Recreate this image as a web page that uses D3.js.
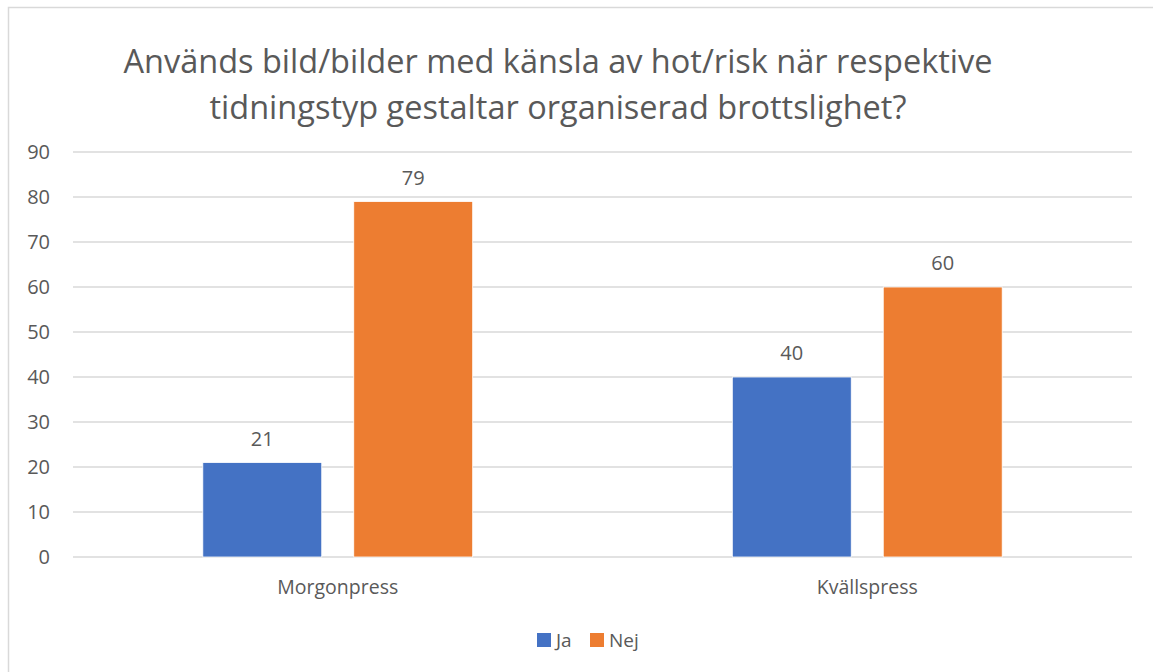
<!DOCTYPE html>
<html>
<head>
<meta charset="utf-8">
<script src="https://cdn.jsdelivr.net/npm/d3@7"></script>
<style>
  body { margin: 0; background: #fff; }
  #chart text { font-family: "Open Sans", "Noto Sans", sans-serif; fill: #595959; }
</style>
</head>
<body>
<div id="chart"></div>
<script>
// data
var categories = ["Morgonpress", "Kvällspress"];
var seriesNames = ["Ja", "Nej"];
var jaValues = [21, 40];
var nejValues = [79, 60];
var yTicks = [0, 10, 20, 30, 40, 50, 60, 70, 80, 90];
var titleLines = ["Används bild/bilder med känsla av hot/risk när respektive",
                  "tidningstyp gestaltar organiserad brottslighet?"];
var colors = ["#4472C4", "#ED7D31"];

var W = 1153, H = 672;
var margin = {top: 152, right: 20, bottom: 115, left: 73},
    width = 1132 - margin.left,
    height = 557 - margin.top;

var svg = d3.select("#chart").append("svg")
    .attr("width", W)
    .attr("height", H);

// outer border
svg.append("rect")
    .attr("x", 8.5).attr("y", 7.5)
    .attr("width", W + 10).attr("height", H + 10)
    .attr("fill", "none")
    .attr("stroke", "#D9D9D9")
    .attr("stroke-width", 1.5);

// title
svg.selectAll(".title")
    .data(titleLines)
  .enter().append("text")
    .attr("class", "title")
    .attr("x", 558)
    .attr("y", function(d, i) { return 73 + i * 46; })
    .attr("text-anchor", "middle")
    .style("font-size", "32.5px")
    .text(function(d) { return d; });

var g = svg.append("g")
    .attr("transform", "translate(" + margin.left + "," + margin.top + ")");

var x0 = d3.scaleBand().domain(categories).range([0, width]);
var x1 = d3.scaleBand().domain(seriesNames)
    .range([0, x0.bandwidth()])
    .paddingInner(0.212)
    .paddingOuter(0.86);
var y = d3.scaleLinear().domain([0, 90]).range([height, 0]);

// gridlines
g.selectAll(".grid")
    .data(yTicks)
  .enter().append("line")
    .attr("x1", 0).attr("x2", width)
    .attr("y1", function(d) { return y(d); })
    .attr("y2", function(d) { return y(d); })
    .attr("stroke", "#D9D9D9")
    .attr("stroke-width", 1.3);

// y axis labels
var yAxis = d3.axisLeft(y).tickValues(yTicks).tickSize(0).tickPadding(23);
g.append("g")
    .attr("class", "y axis")
    .call(yAxis)
    .call(function(s) { s.select(".domain").remove(); })
  .selectAll("text")
    .style("font-size", "20px");

// x axis labels
var xAxis = d3.axisBottom(x0).tickSize(0).tickPadding(23);
g.append("g")
    .attr("class", "x axis")
    .attr("transform", "translate(0," + height + ")")
    .call(xAxis)
    .call(function(s) { s.select(".domain").remove(); })
  .selectAll("text")
    .style("font-size", "19.5px");

var rows = [];
categories.forEach(function(c, i) {
    rows.push({cat: c, s: "Ja", value: jaValues[i], color: colors[0]});
    rows.push({cat: c, s: "Nej", value: nejValues[i], color: colors[1]});
});

g.selectAll(".bar")
    .data(rows)
  .enter().append("rect")
    .attr("class", "bar")
    .attr("x", function(d) { return x0(d.cat) + x1(d.s); })
    .attr("width", x1.bandwidth())
    .attr("y", function(d) { return y(d.value); })
    .attr("height", function(d) { return height - y(d.value); })
    .attr("fill", function(d) { return d.color; })
    .attr("stroke", "#fff")
    .attr("stroke-width", 0.8);

g.selectAll(".lbl")
    .data(rows)
  .enter().append("text")
    .attr("class", "lbl")
    .attr("x", function(d) { return x0(d.cat) + x1(d.s) + x1.bandwidth() / 2; })
    .attr("y", function(d) { return y(d.value) - 17; })
    .attr("text-anchor", "middle")
    .style("font-size", "20px")
    .text(function(d) { return d.value; });

// legend
var legendX = [537, 590];
var legend = svg.selectAll(".legend")
    .data(seriesNames)
  .enter().append("g")
    .attr("transform", function(d, i) { return "translate(" + legendX[i] + ",633)"; });
legend.append("rect")
    .attr("width", 14).attr("height", 14)
    .attr("fill", function(d, i) { return colors[i]; });
legend.append("text")
    .attr("x", 19).attr("y", 14)
    .style("font-size", "19px")
    .text(function(d) { return d; });
</script>
</body>
</html>
